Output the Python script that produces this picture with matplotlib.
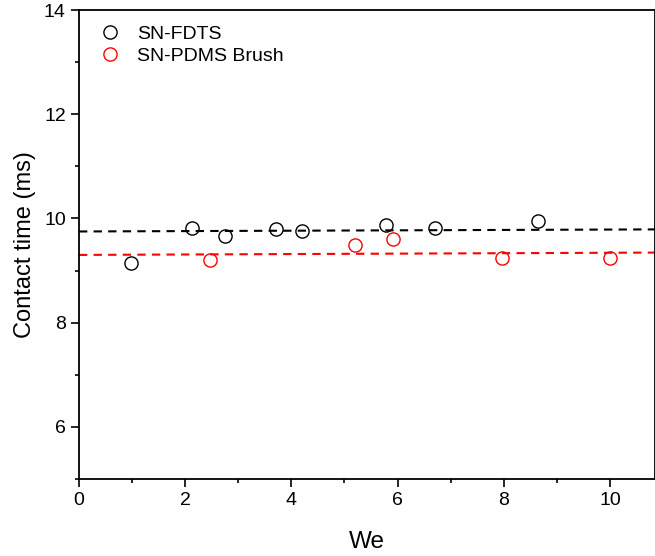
import numpy as np
import matplotlib.pyplot as plt

plt.rcParams['font.family'] = ['Liberation Sans', 'DejaVu Sans']

# ---- data ----
we_fdts = [0.98, 2.12, 2.75, 3.71, 4.21, 5.79, 6.70, 8.65]
t_fdts = [9.15, 9.81, 9.66, 9.80, 9.76, 9.87, 9.81, 9.96]

we_pdms = [2.47, 5.19, 5.92, 7.97, 10.0]
t_pdms = [9.20, 9.49, 9.61, 9.25, 9.24]

# dashed fit lines (end points)
fit_x = [0.0, 10.85]
fit_fdts = [9.75, 9.79]
fit_pdms = [9.30, 9.345]

fig = plt.figure(figsize=(6.55, 5.56), dpi=100)
ax = fig.add_axes([0.1206, 0.1385, 0.8794, 0.8435])

ax.plot(fit_x, fit_fdts, '--', color='black', lw=1.5, dashes=(4, 3))
ax.plot(fit_x, fit_pdms, '--', color='red', lw=1.5, dashes=(4, 3))

ax.plot(we_fdts, t_fdts, 'o', ms=9.5, mfc='none', mec='black', mew=1.0,
        label='SN-FDTS', zorder=5)
ax.plot(we_pdms, t_pdms, 'o', ms=9.5, mfc='none', mec='red', mew=1.0,
        label='SN-PDMS Brush', zorder=5)

ax.set_xlim(0, 10.85)
ax.set_ylim(5, 14)
ax.set_xticks([0, 2, 4, 6, 8, 10])
ax.set_xticks([1, 3, 5, 7, 9], minor=True)
ax.set_yticks([6, 8, 10, 12, 14])
ax.set_yticks([5, 7, 9, 11, 13], minor=True)
ax.tick_params(which='major', direction='out', length=6, width=1.2,
               labelsize=14, pad=3.5)
ax.tick_params(which='minor', direction='out', length=3, width=1.2)
for s in ax.spines.values():
    s.set_linewidth(1.3)

ax.set_xlabel('We', fontsize=17.5, labelpad=16)
ax.set_ylabel('Contact time (ms)', fontsize=17, labelpad=6)

ax.legend(loc='upper left', bbox_to_anchor=(0.0, 1.0), frameon=False,
          fontsize=14, handletextpad=0.6, labelspacing=0.2,
          borderaxespad=0.4, handlelength=1.6)

fig.savefig('out.png', dpi=100)
